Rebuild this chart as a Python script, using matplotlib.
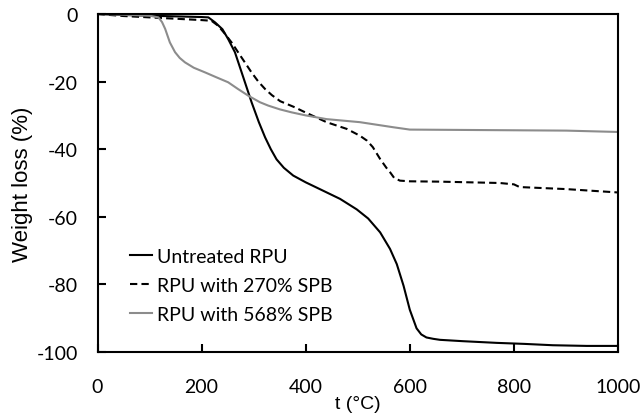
import matplotlib
matplotlib.use("Agg")
import matplotlib.pyplot as plt

# Untreated RPU
t_untreated = [0, 50, 100, 150, 200, 213, 226, 240, 251, 264, 277, 296, 310, 322, 333, 344, 358, 376, 400, 427, 466, 498, 520, 543, 562, 575, 588, 600, 613, 622, 632, 645, 658, 702, 767, 820, 875, 940, 1000]
w_untreated = [0, -0.3, -0.5, -0.7, -0.9, -1.0, -2.5, -4.5, -7.4, -11.3, -17.3, -26.1, -32, -36.5, -40, -43, -45.5, -47.8, -49.8, -51.8, -54.7, -57.8, -60.5, -64.6, -69.5, -74, -80.4, -87.5, -93.0, -94.8, -95.7, -96.1, -96.4, -96.8, -97.3, -97.6, -98.0, -98.2, -98.2]

# RPU with 270% SPB
t_270 = [0, 50, 100, 150, 200, 219, 232, 245, 258, 270, 283, 296, 309, 322, 335, 351, 379, 395, 440, 479, 504, 518, 529, 543, 555, 562, 570, 581, 600, 658, 773, 800, 811, 900, 1000]
w_270 = [0, -0.6, -1.0, -1.4, -1.8, -2.0, -3.5, -5.9, -8.5, -11.3, -14.3, -17.3, -20.0, -22.2, -24.0, -25.8, -27.6, -28.8, -32, -34, -36, -37.5, -39.4, -42.9, -45.5, -46.8, -48.5, -49.3, -49.5, -49.6, -50.0, -50.4, -51.2, -51.8, -52.8]

# RPU with 568% SPB
t_568 = [0, 50, 100, 117, 124, 130, 139, 149, 158, 168, 185, 207, 228, 251, 270, 290, 312, 328, 350, 373, 400, 440, 504, 568, 600, 700, 800, 900, 1000]
w_568 = [0, -0.2, -0.5, -1.0, -2.4, -4.4, -8.4, -11.3, -13.0, -14.3, -15.9, -17.3, -18.7, -20.2, -22.2, -24.2, -26.1, -27.1, -28.2, -29.1, -30.0, -31.1, -32.0, -33.5, -34.2, -34.3, -34.4, -34.5, -34.9]

x_ticks = [0, 200, 400, 600, 800, 1000]
y_ticks = [0, -20, -40, -60, -80, -100]

fig = plt.figure(figsize=(6.41, 4.14), dpi=100)
ax = fig.add_axes([97.5/641, 1 - 353/414, (618 - 97.5)/641, (353 - 15)/414])

ax.plot(t_untreated, w_untreated, color="black", lw=1.5, label="Untreated RPU")
ax.plot(t_270, w_270, color="black", lw=1.5, ls=(0, (3.5, 2)), label="RPU with 270% SPB")
ax.plot(t_568, w_568, color="#8c8c8c", lw=1.5, label="RPU with 568% SPB")

ax.set_xlim(0, 1000)
ax.set_ylim(-100, 0)
ax.set_xticks(x_ticks)
ax.set_yticks(y_ticks)
tickfont = dict(family="Lato", size=14)
ax.set_xticklabels([str(v) for v in x_ticks], fontdict=tickfont)
ax.set_yticklabels([str(v) for v in y_ticks], fontdict=tickfont)
ax.tick_params(direction="in", length=6, width=1.5, top=False, right=False)
ax.tick_params(axis="y", pad=14)
ax.tick_params(axis="x", pad=19)
for s in ax.spines.values():
    s.set_linewidth(1.5)

ax.set_ylabel("Weight loss (%)", family="Liberation Sans", fontsize=16, labelpad=3)
ax.set_xlabel("t (°C)", family="Liberation Sans", fontsize=14, labelpad=0)

leg = ax.legend(loc="lower left", bbox_to_anchor=(0.047, 0.062), frameon=False,
                prop=dict(family="Lato", size=14), handlelength=1.15, handletextpad=0.25,
                labelspacing=0.62, borderaxespad=0)

fig.savefig("out.png", dpi=100)
